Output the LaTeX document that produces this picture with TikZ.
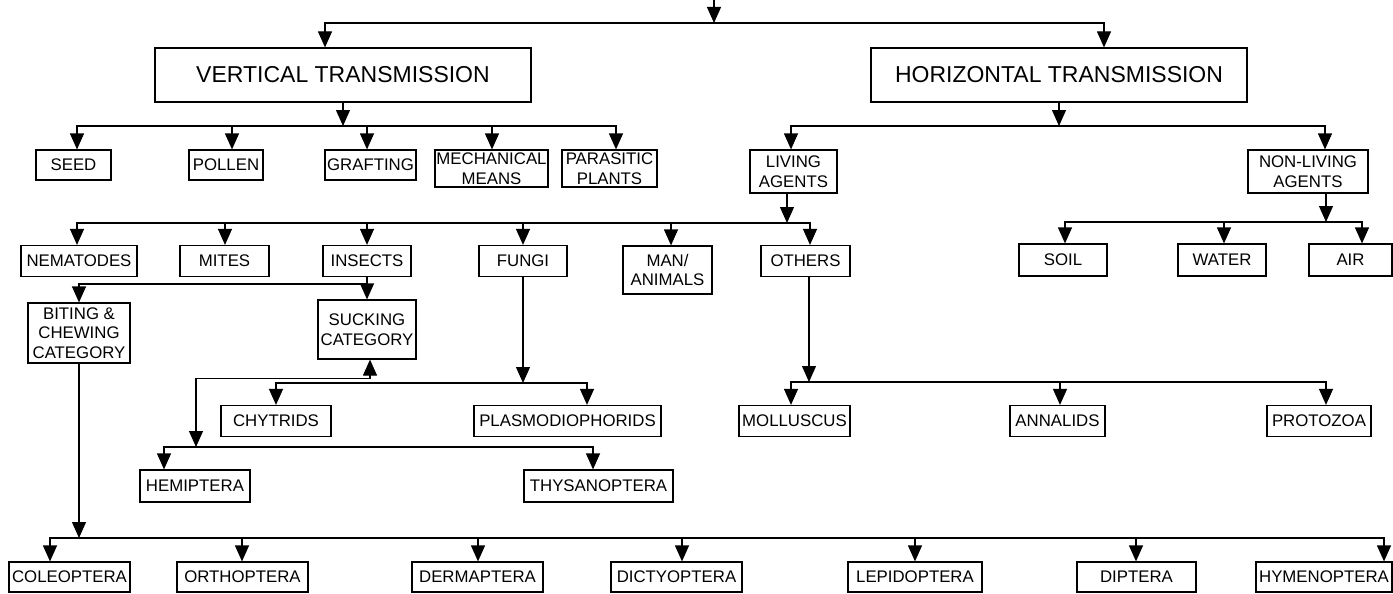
\documentclass[tikz,border=0pt]{standalone}
\usepackage{fontspec}
\setmainfont{Liberation Sans}
\usetikzlibrary{arrows.meta}
\tikzset{blk/.style 2 args={draw,line width=1.2pt,inner sep=0pt,align=center,
  minimum width=#1pt,minimum height=#2pt,font=\fontsize{16.8}{19.5}\selectfont},
  big/.style={font=\fontsize{23}{27}\selectfont},
  >={Triangle[length=16pt,width=14pt]}}

\begin{document}
\begin{tikzpicture}[x=1pt,y=-1pt,line width=1.2pt]
  \useasboundingbox (0,0) rectangle (1393,594);
  % boxes
  \node[blk={376}{54},big] (vt) at (343,75) {VERTICAL TRANSMISSION};
  \node[blk={376}{54},big] (ht) at (1059,75) {HORIZONTAL TRANSMISSION};
  \foreach \n/\x/\w/\t in {seed/73.5/75/SEED,pollen/226/74/POLLEN,graft/370.5/91/GRAFTING}
    {\node[blk={\w}{30}] (\n) at (\x,165) {\t};}
  \node[blk={113}{37}] (mech) at (491.5,168.5) {MECHANICAL\\MEANS};
  \node[blk={95}{37}] (para) at (609.5,168.5) {PARASITIC\\PLANTS};
  \node[blk={87}{43}] (living) at (793.5,171.5) {LIVING\\AGENTS};
  \node[blk={120}{43}] (nonliv) at (1308,171.5) {NON-LIVING\\AGENTS};
  \foreach \n/\x/\w/\t in {nem/79/116/NEMATODES,mites/224.5/89/MITES,insects/367/88/INSECTS,
    fungi/523/88/FUNGI,others/805.5/89/OTHERS}
    {\node[blk={\w}{31}] (\n) at (\x,261) {\t};}
  \node[blk={89}{48}] (man) at (667.5,270) {MAN/\\ANIMALS};
  \foreach \n/\x/\w/\t in {soil/1063/88/SOIL,water/1222/88/WATER,air/1350.5/83/AIR}
    {\node[blk={\w}{32}] (\n) at (\x,260) {\t};}
  \node[blk={102}{60}] (biting) at (79,333) {BITING \&\\CHEWING\\CATEGORY};
  \node[blk={98}{59}] (sucking) at (367,329.5) {SUCKING\\CATEGORY};
  \foreach \n/\x/\w/\t in {chyt/276/110/CHYTRIDS,plasmo/567.5/187/PLASMODIOPHORIDS,
    mollus/794.5/111/MOLLUSCUS,annal/1057.5/95/ANNALIDS,proto/1319/104/PROTOZOA}
    {\node[blk={\w}{31}] (\n) at (\x,421) {\t};}
  \node[blk={110}{32}] (hemi) at (195,486) {HEMIPTERA};
  \node[blk={149}{32}] (thysa) at (598.5,486) {THYSANOPTERA};
  \foreach \n/\x/\w/\t in {coleo/69.5/121/COLEOPTERA,ortho/242.5/131/ORTHOPTERA,
    derm/477.5/131/DERMAPTERA,dicty/676.5/131/DICTYOPTERA,lepi/915/134/LEPIDOPTERA,
    dipt/1136.5/119/DIPTERA,hymen/1324/136/HYMENOPTERA}
    {\node[blk={\w}{30}] (\n) at (\x,577) {\t};}

  % connectors
  \coordinate (in) at (714,0);
  \coordinate (b0) at (714,23);
  \draw[->] (in) -- (b0);
  \foreach \n/\x in {vt/325,ht/1104}
    {\draw[->] (b0) -| (\x,0 |- \n.north);}
  \coordinate (b1) at (343,126);
  \draw[->] (vt) -- (b1);
  \foreach \n/\x in {seed/77,pollen/232,graft/367,mech/492,para/616}
    {\draw[->] (b1) -| (\x,0 |- \n.north);}
  \coordinate (b2) at (1059,126);
  \draw[->] (ht) -- (b2);
  \foreach \n/\x in {living/791,nonliv/1325}
    {\draw[->] (b2) -| (\x,0 |- \n.north);}
  \coordinate (b3) at (787,223);
  \draw[->] (living.south -| b3) -- (b3);
  \foreach \n/\x in {nem/77,mites/225,insects/367,fungi/523,man/671,others/810}
    {\draw[->] (b3) -| (\x,0 |- \n.north);}
  \coordinate (b4) at (1326,222);
  \draw[->] (nonliv.south -| b4) -- (b4);
  \foreach \n/\x in {soil/1065,water/1224,air/1362}
    {\draw[->] (b4) -| (\x,0 |- \n.north);}
  \coordinate (b5) at (367,284);
  \draw[->] (insects) -- (sucking);
  \draw[->] (b5) -| (biting);
  \coordinate (b6) at (196,447);
  \draw[<->] (sucking.south -| 370,0) -- ++(0,19) -| (b6);
  \foreach \n/\x in {hemi/164,thysa/593}
    {\draw[->] (b6) -| (\x,0 |- \n.north);}
  \coordinate (b7) at (523,383);
  \draw[->] (fungi) -- (b7);
  \foreach \n/\x in {chyt/276,plasmo/587}
    {\draw[->] (b7) -| (\x,0 |- \n.north);}
  \coordinate (b8) at (809,382);
  \draw[->] (others.south -| b8) -- (b8);
  \foreach \n/\x in {mollus/791,annal/1060,proto/1326}
    {\draw[->] (b8) -| (\x,0 |- \n.north);}
  \coordinate (b9) at (79,538);
  \draw[->] (biting) -- (b9);
  \foreach \n/\x in {coleo/50,ortho/242,derm/478,dicty/682,lepi/915,dipt/1136,hymen/1384}
    {\draw[->] (b9) -| (\x,0 |- \n.north);}
\end{tikzpicture}
\end{document}
